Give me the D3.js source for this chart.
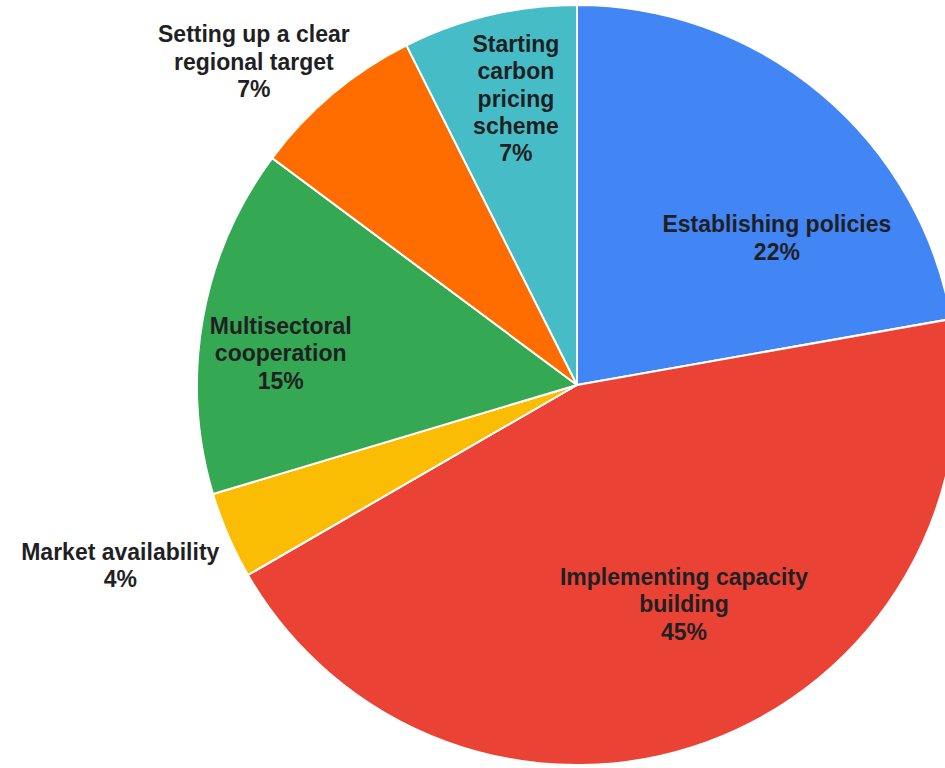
<!DOCTYPE html>
<html>
<head>
<meta charset="utf-8">
<script src="https://cdn.jsdelivr.net/npm/d3@7"></script>
<style>
  html, body { margin: 0; padding: 0; background: #fff; }
  svg { display: block; }
</style>
</head>
<body>
<svg id="chart" width="945" height="768"></svg>
<script>
// slices, clockwise from 12 o'clock
var categories = [
  "Establishing policies",
  "Implementing capacity building",
  "Market availability",
  "Multisectoral cooperation",
  "Setting up a clear regional target",
  "Starting carbon pricing scheme"
];
// shares
var shares = [22.2, 44.4, 3.7, 14.8, 7.4, 7.4];
// percent text printed on the chart
var pctLabels = ["22%", "45%", "4%", "15%", "7%", "7%"];
// how each label wraps
var labelLines = [
  ["Establishing policies"],
  ["Implementing capacity", "building"],
  ["Market availability"],
  ["Multisectoral", "cooperation"],
  ["Setting up a clear", "regional target"],
  ["Starting", "carbon", "pricing", "scheme"]
];
var colors = ["#4285f4", "#ea4335", "#fbbc04", "#34a853", "#ff6d01", "#46bdc6"];

// label placement: degrees off the bisector, distance from centre
var labelNudge = [13.7, -6, 1.8, -3.9, -5, 1.3];
var labelDist = [248, 244, 491, 298, 457, 293];

var cx = 577, cy = 385, radius = 380;
var lineH = 27.5;

var svg = d3.select("#chart");
var g = svg.append("g").attr("transform", "translate(" + cx + "," + cy + ")");

var rows = categories.map(function(c, i){
  return { name: c, value: shares[i], i: i };
});

var pie = d3.pie().sort(null).value(function(d){ return d.value; });
var arc = d3.arc().innerRadius(0).outerRadius(radius);
var arcs = pie(rows);

g.selectAll("path.slice").data(arcs).enter().append("path")
  .attr("class", "slice")
  .attr("d", arc)
  .attr("fill", function(d){ return colors[d.data.i]; })
  .attr("stroke", "#fff")
  .attr("stroke-width", 2);

var labels = g.selectAll("text.lbl").data(arcs).enter().append("text")
  .attr("class", "lbl")
  .attr("text-anchor", "middle")
  .attr("font-family", "'Liberation Sans', Arial, sans-serif")
  .attr("font-weight", "bold")
  .attr("font-size", 23)
  .attr("fill", "#1f1f24")
  .attr("transform", function(d){
    var i = d.data.i;
    var a = (d.startAngle + d.endAngle) / 2 + labelNudge[i] * Math.PI / 180;
    var r = labelDist[i];
    return "translate(" + (Math.sin(a) * r) + "," + (-Math.cos(a) * r) + ")";
  });

labels.each(function(d){
  var i = d.data.i;
  var lines = labelLines[i].concat([pctLabels[i]]);
  var top = -(lines.length - 1) * lineH / 2;
  d3.select(this).selectAll("tspan").data(lines).enter().append("tspan")
    .attr("x", 0)
    .attr("y", function(t, k){ return top + k * lineH; })
    .attr("dy", "0.35em")
    .text(function(t){ return t; });
});
</script>
</body>
</html>
